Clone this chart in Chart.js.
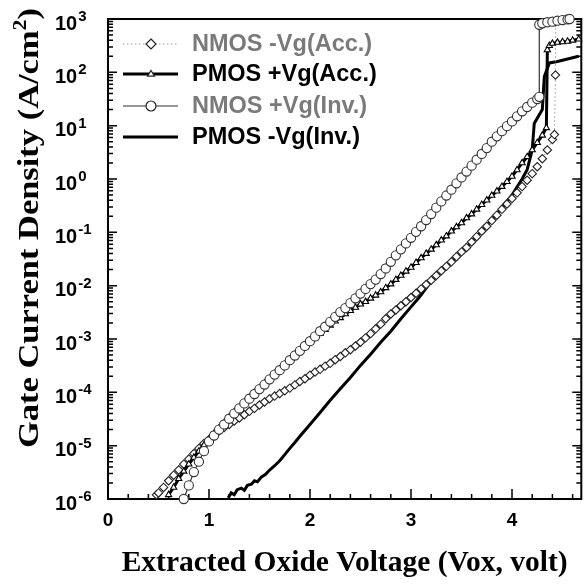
<!DOCTYPE html>
<html>
<head>
<meta charset="utf-8">
<script src="https://cdn.jsdelivr.net/npm/chart.js@4.4.0/dist/chart.umd.min.js"></script>
<style>
  html, body { margin: 0; padding: 0; background: #fff; }
</style>
</head>
<body>
<canvas id="myChart" width="587" height="585"></canvas>
<script>
// series labels, same order as the legend
const seriesLabels = ["NMOS -Vg(Acc.)", "PMOS +Vg(Acc.)", "NMOS +Vg(Inv.)", "PMOS -Vg(Inv.)"];

// NMOS -Vg (accumulation), diamonds
const nmosAccV = [0.48, 0.50, 0.55, 0.60, 0.65, 0.70, 0.75, 0.80, 0.85, 0.90, 0.95,
  1.00, 1.05, 1.10, 1.15, 1.20, 1.25, 1.30, 1.35, 1.40, 1.45, 1.50, 1.55, 1.60, 1.65, 1.70, 1.75, 1.80, 1.85, 1.90, 1.95,
  2.00, 2.05, 2.10, 2.15, 2.20, 2.25, 2.30, 2.35, 2.40, 2.45, 2.50, 2.55, 2.60, 2.65, 2.70, 2.75, 2.80, 2.85, 2.90, 2.95,
  3.00, 3.05, 3.10, 3.15, 3.20, 3.25, 3.30, 3.35, 3.40, 3.45, 3.50, 3.55, 3.60, 3.65, 3.70, 3.75, 3.80, 3.85, 3.90, 3.95,
  4.00, 4.05, 4.10, 4.15, 4.20, 4.25, 4.30, 4.35, 4.40, 4.42, 4.43, 4.43];
const nmosAccJ = [1.2e-6, 1.3e-6, 1.65e-6, 2.2e-6, 2.8e-6, 3.5e-6, 4.5e-6, 5.6e-6, 7.1e-6, 8.9e-6, 1.1e-5,
  1.3e-5, 1.6e-5, 1.9e-5, 2.2e-5, 2.5e-5, 2.9e-5, 3.3e-5, 3.8e-5, 4.4e-5, 5.0e-5, 5.8e-5, 6.6e-5, 7.6e-5, 8.5e-5, 9.5e-5, 1.07e-4, 1.2e-4, 1.38e-4, 1.6e-4, 1.8e-4,
  2.1e-4, 2.4e-4, 2.7e-4, 3.1e-4, 3.5e-4, 4.1e-4, 4.7e-4, 5.5e-4, 6.3e-4, 7.4e-4, 8.7e-4, 1.05e-3, 1.26e-3, 1.55e-3, 1.9e-3, 2.4e-3, 2.95e-3, 3.5e-3, 4.2e-3, 5.0e-3,
  6.0e-3, 7.2e-3, 8.7e-3, 1.05e-2, 1.26e-2, 1.55e-2, 1.9e-2, 2.3e-2, 2.8e-2, 3.5e-2, 4.3e-2, 5.2e-2, 6.6e-2, 8.3e-2, 0.105, 0.13, 0.166, 0.21, 0.27, 0.34,
  0.43, 0.55, 0.72, 0.95, 1.26, 1.7, 2.4, 3.5, 5.5, 6.8, 89, 890];

// PMOS +Vg (accumulation), thick line + triangles
const pmosAccV = [0.60, 0.65, 0.70, 0.75, 0.80, 0.85, 0.90, 0.95,
  1.00, 1.05, 1.10, 1.15, 1.20, 1.25, 1.30, 1.35, 1.40, 1.45, 1.50, 1.55, 1.60, 1.65, 1.70, 1.75, 1.80, 1.85, 1.90, 1.95,
  2.00, 2.05, 2.10, 2.15, 2.20, 2.25, 2.30, 2.35, 2.40, 2.45, 2.50, 2.55, 2.60, 2.65, 2.70, 2.75, 2.80, 2.85, 2.90, 2.95,
  3.00, 3.05, 3.10, 3.15, 3.20, 3.25, 3.30, 3.35, 3.40, 3.45, 3.50, 3.55, 3.60, 3.65, 3.70, 3.75, 3.80, 3.85, 3.90, 3.95,
  4.00, 4.05, 4.10, 4.15, 4.20, 4.25, 4.30, 4.34, 4.35, 4.37, 4.40, 4.45, 4.50, 4.55, 4.60, 4.66];
const pmosAccJ = [1.2e-6, 1.65e-6, 2.4e-6, 3.3e-6, 4.5e-6, 6.0e-6, 7.9e-6, 1.02e-5,
  1.3e-5, 1.7e-5, 2.15e-5, 2.7e-5, 3.4e-5, 4.3e-5, 5.2e-5, 6.5e-5, 7.9e-5, 9.8e-5, 1.2e-4, 1.48e-4, 1.8e-4, 2.2e-4, 2.7e-4, 3.2e-4, 4.0e-4, 4.8e-4, 5.9e-4, 7.1e-4,
  8.7e-4, 1.05e-3, 1.26e-3, 1.5e-3, 1.8e-3, 2.15e-3, 2.5e-3, 2.95e-3, 3.4e-3, 3.9e-3, 4.5e-3, 5.0e-3, 5.8e-3, 6.6e-3, 7.6e-3, 9.1e-3, 1.07e-2, 1.3e-2, 1.55e-2, 1.86e-2,
  2.2e-2, 2.7e-2, 3.3e-2, 4.0e-2, 4.8e-2, 5.8e-2, 7.1e-2, 8.5e-2, 0.105, 0.126, 0.15, 0.186, 0.22, 0.27, 0.33, 0.40, 0.49, 0.59, 0.72, 0.89,
  1.12, 1.48, 2.0, 2.6, 3.5, 4.8, 6.6, 9.1, 263, 316, 347, 363, 372, 380, 398, 417];

// NMOS +Vg (inversion), thin line + circles
const nmosInvV = [0.75, 0.80, 0.85, 0.90, 0.95,
  1.00, 1.05, 1.10, 1.15, 1.20, 1.25, 1.30, 1.35, 1.40, 1.45, 1.50, 1.55, 1.60, 1.65, 1.70, 1.75, 1.80, 1.85, 1.90, 1.95,
  2.00, 2.05, 2.10, 2.15, 2.20, 2.25, 2.30, 2.35, 2.40, 2.45, 2.50, 2.55, 2.60, 2.65, 2.70, 2.75, 2.80, 2.85, 2.90, 2.95,
  3.00, 3.05, 3.10, 3.15, 3.20, 3.25, 3.30, 3.35, 3.40, 3.45, 3.50, 3.55, 3.60, 3.65, 3.70, 3.75, 3.80, 3.85, 3.90, 3.95,
  4.00, 4.05, 4.10, 4.15, 4.20, 4.25, 4.27, 4.27, 4.30, 4.35, 4.40, 4.45, 4.50, 4.55, 4.57];
const nmosInvJ = [1.0e-6, 1.8e-6, 3.2e-6, 5.0e-6, 7.9e-6,
  1.2e-5, 1.55e-5, 2.0e-5, 2.5e-5, 3.2e-5, 4.0e-5, 5.0e-5, 6.2e-5, 7.6e-5, 9.3e-5, 1.15e-4, 1.4e-4, 1.75e-4, 2.15e-4, 2.6e-4, 3.2e-4, 4.0e-4, 4.9e-4, 6.0e-4, 7.4e-4,
  9.1e-4, 1.12e-3, 1.4e-3, 1.7e-3, 2.1e-3, 2.6e-3, 3.2e-3, 3.8e-3, 4.7e-3, 5.8e-3, 7.1e-3, 8.7e-3, 1.07e-2, 1.3e-2, 1.65e-2, 2.1e-2, 2.8e-2, 3.7e-2, 4.8e-2, 6.2e-2,
  7.9e-2, 0.102, 0.13, 0.17, 0.22, 0.29, 0.38, 0.49, 0.63, 0.83, 1.07, 1.38, 1.78, 2.3, 2.95, 3.8, 5.0, 6.3, 7.9, 9.8,
  12, 15, 18.6, 22.4, 27, 31.6, 34.7, 780, 830, 870, 890, 930, 955, 980, 1000];

// PMOS -Vg (inversion), thick line, no markers
const pmosInvV = [1.19, 1.22, 1.25, 1.28, 1.32, 1.35, 1.38, 1.42, 1.45, 1.48, 1.52, 1.56, 1.60, 1.65, 1.70, 1.75, 1.80, 1.85, 1.90,
  2.0, 2.1, 2.2, 2.3, 2.4, 2.5, 2.6, 2.7, 2.8, 2.9, 3.0, 3.08, 3.2, 3.4, 3.6, 3.8, 4.0, 4.1, 4.15, 4.2, 4.22, 4.30, 4.32, 4.37, 4.45, 4.55, 4.66];
const pmosInvJ = [1.05e-6, 1.3e-6, 1.2e-6, 1.5e-6, 1.6e-6, 1.45e-6, 1.8e-6, 1.9e-6, 2.2e-6, 2.1e-6, 2.6e-6, 2.9e-6, 3.5e-6, 4.2e-6, 5.2e-6, 6.8e-6, 8.9e-6, 1.15e-5, 1.5e-5,
  2.5e-5, 4.2e-5, 7.1e-5, 1.17e-4, 1.9e-4, 3.2e-4, 5.2e-4, 8.7e-4, 1.4e-3, 2.4e-3, 4.0e-3, 6.0e-3, 1.2e-2, 2.75e-2, 6.6e-2, 0.17, 0.5, 1.0, 1.5, 3.5, 11, 20, 83, 150, 160, 178, 200];

const xTicks = [0, 1, 2, 3, 4];
const yExponents = [3, 2, 1, 0, -1, -2, -3, -4, -5, -6];
const xTitle = "Extracted Oxide Voltage (Vox, volt)";
const yTitle = "Gate Current Density (A/cm";

function pairs(xs, ys) {
  return xs.map((v, i) => ({ x: v, y: ys[i] }));
}

// box, inward ticks, y labels, y title and legend
const framePlugin = {
  id: "frame",
  beforeDatasetsDraw(chart) {
    const { ctx, chartArea: a, scales } = chart;
    const x = scales.x, y = scales.y;
    ctx.save();
    ctx.strokeStyle = "#000";
    ctx.lineWidth = 2;
    ctx.strokeRect(a.left, a.top, a.right - a.left, a.bottom - a.top);
    ctx.lineWidth = 1.5;
    ctx.beginPath();
    for (let e = -6; e <= 3; e++) {
      const py = y.getPixelForValue(Math.pow(10, e));
      ctx.moveTo(a.left, py); ctx.lineTo(a.left + 9, py);
      ctx.moveTo(a.right, py); ctx.lineTo(a.right - 9, py);
      if (e < 3) {
        for (let m = 2; m <= 9; m++) {
          const pm = y.getPixelForValue(m * Math.pow(10, e));
          ctx.moveTo(a.left, pm); ctx.lineTo(a.left + 5, pm);
          ctx.moveTo(a.right, pm); ctx.lineTo(a.right - 5, pm);
        }
      }
    }
    for (let k = 0; k <= 23; k++) {
      const v = k * 0.2;
      if (v > x.max) break;
      const px = x.getPixelForValue(v);
      const len = k % 5 === 0 ? 10 : 5;
      ctx.moveTo(px, a.bottom); ctx.lineTo(px, a.bottom - len);
    }
    ctx.stroke();
    ctx.restore();
  },
  afterDraw(chart) {
    const { ctx, scales } = chart;
    const y = scales.y;
    ctx.save();
    ctx.fillStyle = "#000";
    ctx.textBaseline = "middle";
    ctx.textAlign = "left";
    yExponents.forEach(e => {
      const py = y.getPixelForValue(Math.pow(10, e));
      ctx.font = "bold 20px 'Liberation Sans', Arial, sans-serif";
      ctx.fillText("10", 55, py + 5);
      const w = ctx.measureText("10").width;
      ctx.font = "bold 15px 'Liberation Sans', Arial, sans-serif";
      ctx.fillText(String(e), 55 + w + 1, py - 2);
    });

    // y title, rotated, with superscript 2
    const mainFont = "bold 30px 'Liberation Serif', 'Times New Roman', serif";
    const supFont = "bold 19px 'Liberation Serif', 'Times New Roman', serif";
    ctx.font = mainFont;
    const w1 = ctx.measureText(yTitle).width;
    const w3 = ctx.measureText(")").width;
    ctx.font = supFont;
    const w2 = ctx.measureText("2").width;
    const total = w1 + w2 + w3;
    const s = 440 / total;
    ctx.translate(38, 228);
    ctx.rotate(-Math.PI / 2);
    ctx.scale(s, 1);
    ctx.textBaseline = "alphabetic";
    ctx.font = mainFont;
    ctx.fillText(yTitle, -total / 2, 0);
    ctx.font = supFont;
    ctx.fillText("2", -total / 2 + w1, -12);
    ctx.font = mainFont;
    ctx.fillText(")", -total / 2 + w1 + w2, 0);
    ctx.restore();

    // legend
    const rows = [44, 74, 106, 137];
    const textColors = ["#7a7a7a", "#000", "#7a7a7a", "#000"];
    ctx.save();
    rows.forEach((ry, i) => {
      const ds = chart.data.datasets[i];
      ctx.beginPath();
      ctx.strokeStyle = ds.borderColor;
      ctx.lineWidth = ds.borderWidth;
      ctx.setLineDash(ds.borderDash || []);
      ctx.moveTo(123, ry); ctx.lineTo(178, ry);
      ctx.stroke();
      ctx.setLineDash([]);
      if (ds.pointRadius > 0) {
        ctx.fillStyle = "#fff";
        ctx.strokeStyle = "#222";
        ctx.lineWidth = 1.2;
        ctx.beginPath();
        if (ds.pointStyle === "circle") {
          ctx.arc(151, ry, 5, 0, Math.PI * 2);
        } else if (ds.pointStyle === "rectRot") {
          const r = 5;
          ctx.moveTo(151, ry - r); ctx.lineTo(151 + r, ry); ctx.lineTo(151, ry + r); ctx.lineTo(151 - r, ry); ctx.closePath();
        } else {
          const r = 3.5;
          ctx.moveTo(151, ry - r); ctx.lineTo(151 + r, ry + r * 0.6); ctx.lineTo(151 - r, ry + r * 0.6); ctx.closePath();
        }
        ctx.fill();
        ctx.stroke();
      }
      ctx.font = "bold 23.5px 'Liberation Sans', Arial, sans-serif";
      ctx.fillStyle = textColors[i];
      ctx.textBaseline = "middle";
      ctx.fillText(seriesLabels[i], 192, ry + 1);
    });
    ctx.restore();
  }
};

const ctxEl = document.getElementById("myChart");

new Chart(ctxEl, {
  type: "line",
  data: {
    datasets: [
      {
        label: seriesLabels[0],
        data: pairs(nmosAccV, nmosAccJ),
        borderColor: "#9a9a9a",
        borderWidth: 1,
        borderDash: [1.5, 2.5],
        pointStyle: "rectRot",
        pointRadius: 4.2,
        pointBorderColor: "#222",
        pointBackgroundColor: "#fff",
        pointBorderWidth: 1.1,
        clip: false,
        order: 2
      },
      {
        label: seriesLabels[1],
        data: pairs(pmosAccV, pmosAccJ),
        borderColor: "#000",
        borderWidth: 3,
        pointStyle: "triangle",
        pointRadius: 3.6,
        pointBorderColor: "#000",
        pointBackgroundColor: "#fff",
        pointBorderWidth: 1.1,
        clip: false,
        order: 1
      },
      {
        label: seriesLabels[2],
        data: pairs(nmosInvV, nmosInvJ),
        borderColor: "#333",
        borderWidth: 1.2,
        pointStyle: "circle",
        pointRadius: 4.6,
        pointBorderColor: "#333",
        pointBackgroundColor: "#fff",
        pointBorderWidth: 1.1,
        clip: false,
        order: 0
      },
      {
        label: seriesLabels[3],
        data: pairs(pmosInvV, pmosInvJ),
        borderColor: "#000",
        borderWidth: 3,
        pointRadius: 0,
        clip: false,
        order: 3
      }
    ]
  },
  options: {
    responsive: false,
    animation: false,
    devicePixelRatio: 1,
    layout: { padding: { left: 108, top: 19, right: 1, bottom: 0 } },
    plugins: {
      legend: { display: false },
      tooltip: { enabled: false }
    },
    scales: {
      x: {
        type: "linear",
        min: 0,
        max: 4.686,
        afterBuildTicks: s => { s.ticks = xTicks.map(v => ({ value: v })); },
        afterFit: s => { s.height = 86; },
        grid: { display: false, drawTicks: false },
        border: { display: false },
        ticks: {
          color: "#000",
          autoSkip: false,
          maxRotation: 0,
          padding: 10,
          font: { family: "'Liberation Sans', Arial, sans-serif", size: 19, weight: "bold" }
        },
        title: {
          display: true,
          text: xTitle,
          color: "#000",
          padding: { top: 0, bottom: 4 },
          font: { family: "'Liberation Serif', 'Times New Roman', serif", size: 29.5, weight: "bold" }
        }
      },
      y: {
        type: "logarithmic",
        min: 1e-6,
        max: 1e3,
        display: false
      }
    }
  },
  plugins: [framePlugin]
});
</script>
</body>
</html>
